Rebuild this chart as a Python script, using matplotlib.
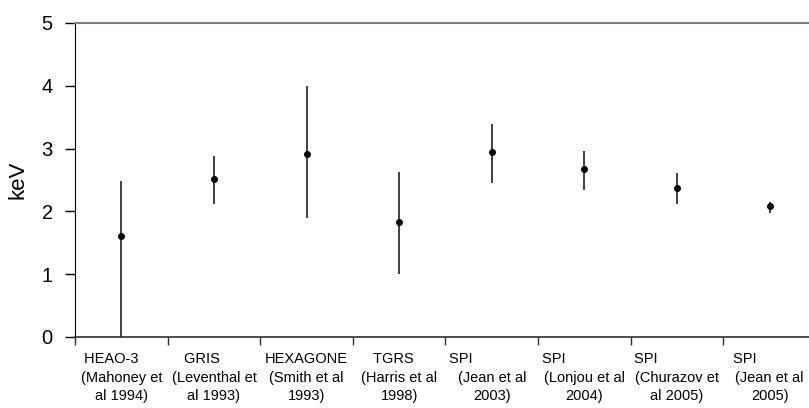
import numpy as np
import matplotlib
matplotlib.use('Agg')
import matplotlib.pyplot as plt

plt.rcParams['font.family'] = ['Liberation Sans', 'DejaVu Sans']

# instrument / reference labels (first line padded like the original wrap)
instruments = ['HEAO-3     ', 'GRIS      ', 'HEXAGONE', 'TGRS   ', 'SPI               ', 'SPI               ', 'SPI               ', 'SPI            ']
refs = ['(Mahoney et\nal 1994)', '(Leventhal et\nal 1993)', '(Smith et al\n1993)', '(Harris et al\n1998)',
        '(Jean et al\n2003)', '(Lonjou et al\n2004)', '(Churazov et\nal 2005)', '(Jean et al\n2005)']
kev = [1.61, 2.51, 2.92, 1.83, 2.95, 2.68, 2.38, 2.08]
kev_low = [0.0, 2.11, 1.90, 1.00, 2.46, 2.34, 2.12, 1.98]
kev_high = [2.49, 2.89, 4.00, 2.62, 3.39, 2.96, 2.61, 2.15]

x = np.arange(len(kev))
kev = np.array(kev)
yerr = [kev - np.array(kev_low), np.array(kev_high) - kev]

fig = plt.figure(figsize=(8.09, 4.08), dpi=100)
ax = fig.add_axes([75/809, 71/408, 741/809, 314/408])

ax.errorbar(x, kev, yerr=yerr, fmt='o', color='black', ecolor='#202020',
            elinewidth=1.2, markersize=4, capsize=0)

ax.set_xlim(-0.5, len(kev) - 0.5)
ax.set_ylim(0, 5)
ax.set_yticks(range(6))
ax.set_yticklabels([str(v) for v in range(6)], fontsize=14.5)
ax.tick_params(axis='y', direction='out', length=7, width=1, pad=9, color='black')

ax.set_xticks(np.arange(-0.5, len(kev), 1.0))
ax.set_xticklabels([])
ax.set_xticks(x, minor=True)
ax.set_xticklabels([a + '\n' + b for a, b in zip(instruments, refs)], minor=True,
                   fontsize=10.5, linespacing=1.4, multialignment='center')
ax.tick_params(axis='x', which='major', direction='out', length=6, width=1, color='#303030')
ax.tick_params(axis='x', which='minor', length=0, pad=11)

ax.set_ylabel('keV', fontsize=16)
ax.yaxis.set_label_coords(-0.063, 0.5)

ax.spines['top'].set_color('#808080')
ax.spines['top'].set_linewidth(1.5)
ax.spines['right'].set_visible(False)
ax.spines['left'].set_color('black')
ax.spines['bottom'].set_color('#303030')
ax.spines['bottom'].set_linewidth(1.2)

fig.savefig('out.png', dpi=100)
